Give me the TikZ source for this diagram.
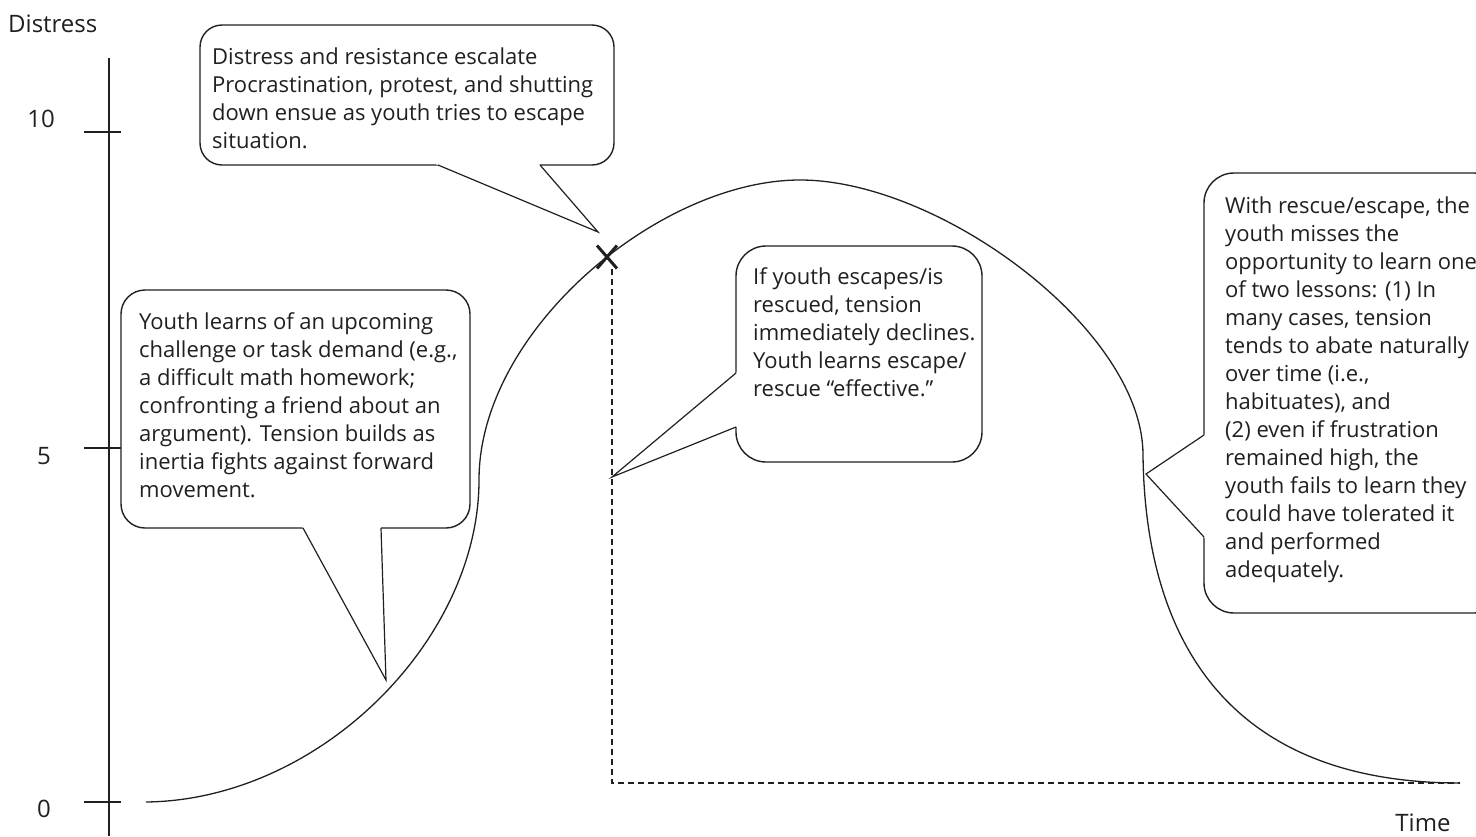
\documentclass[tikz,border=0pt]{standalone}
\usepackage{fontspec}
\setmainfont{Open Sans}
\usetikzlibrary{calc}
\definecolor{ink}{RGB}{35,31,32}

% white wedge over the bubble edge, then its two stroked sides
\newcommand{\bubbletail}[3]{%
  \fill[white] ($(#1)!-3pt!(#2)$) -- (#2) -- ($(#3)!-3pt!(#2)$) -- cycle;
  \draw[tail] (#1) -- (#2) -- (#3);}

\begin{document}
\begin{tikzpicture}[x=1pt,y=-1pt,
  lbl/.style={text=ink, font=\fontsize{24}{28}\selectfont, inner sep=0pt},
  note/.style={text=ink, font=\fontsize{22}{28}\selectfont, align=left,
    anchor=north west, inner sep=0pt},
  bubble/.style={draw=ink, line width=1.4pt, fill=white, anchor=north west,
    inner sep=0pt, outer sep=0pt},
  tail/.style={draw=ink, line width=1.2pt, line join=miter},
  axisline/.style={draw=ink, line width=2.4pt},
  tickline/.style={draw=ink, line width=2.6pt},
  trend/.style={draw=ink, line width=1.3pt},
  cross/.style={draw=ink, line width=3pt},
  escape/.style={draw=ink, line width=1.4pt, dash pattern=on 6pt off 4pt}]

\clip (0,0) rectangle (1476,836);

% vertical axis with its ticks and labels
\coordinate (ytop) at (109,58);
\coordinate (ybot) at (109,836);
\draw[axisline] (ytop) -- (ybot);
\node[lbl, anchor=west] (ylabel) at (8,24) {Distress};

\coordinate (t10a) at (84,132);  \coordinate (t10b) at (121,132);
\coordinate (t5a)  at (84,448);  \coordinate (t5b)  at (121,448);
\coordinate (t0a)  at (84,802);  \coordinate (t0b)  at (121,802);
\draw[tickline] (t10a) -- (t10b);
\draw[tickline] (t5a) -- (t5b);
\draw[tickline] (t0a) -- (t0b);
\node[lbl] (l10) at (41,119) {10};
\node[lbl] (l5)  at (44,456) {5};
\node[lbl] (l0)  at (44,809) {0};
\node[lbl] (xlabel) at (1423,823) {Time};

% distress over time
\coordinate (c0) at (146,802);
\coordinate (c1) at (479,480);
\coordinate (c2) at (800,180);
\coordinate (c3) at (1143,455);
\coordinate (c4) at (1460,783);
\draw[trend] (c0) .. controls (320,800) and (479,640) .. (c1)
  .. controls (479,330) and (660,180) .. (c2)
  .. controls (940,180) and (1143,330) .. (c3)
  .. controls (1145,630) and (1220,783) .. (c4);

% escape point and the drop that follows it
\coordinate (xmark) at (607,257);
\coordinate (drop)  at (612,269);
\coordinate (floor) at (612,783);
\coordinate (fend)  at (1460,783);
\draw[escape] (drop) -- (floor) -- (fend);
\draw[cross] ($(xmark)+(-10,-11.5)$) -- ($(xmark)+(10,11.5)$);
\draw[cross] ($(xmark)+(10,-11.5)$) -- ($(xmark)+(-10,11.5)$);

% speech bubbles
\node[bubble, rounded corners=22pt, minimum width=414pt, minimum height=140pt]
  (b1) at (200,25) {};
\coordinate (b1l) at (438,165); \coordinate (b1t) at (598,232); \coordinate (b1r) at (540,165);
\bubbletail{b1l}{b1t}{b1r}

\node[bubble, rounded corners=24pt, minimum width=349pt, minimum height=238pt]
  (b2) at (121,290) {};
\coordinate (b2l) at (303,528); \coordinate (b2t) at (386,680); \coordinate (b2r) at (381,528);
\bubbletail{b2l}{b2t}{b2r}

\node[bubble, rounded corners=30pt, minimum width=246pt, minimum height=216pt]
  (b3) at (736,246) {};
\coordinate (b3u) at (736,373); \coordinate (b3t) at (612,477); \coordinate (b3d) at (736,427);
\bubbletail{b3u}{b3t}{b3d}

\node[bubble, rounded corners=30pt, minimum width=300pt, minimum height=440pt]
  (b4) at (1204,173) {};
\coordinate (b4u) at (1204,435); \coordinate (b4t) at (1146,474); \coordinate (b4d) at (1204,537);
\bubbletail{b4u}{b4t}{b4d}

% bubble texts
\node[note] (n1) at (212,48) {Distress and resistance escalate\\
Procrastination, protest, and shutting\\
down ensue as youth tries to escape\\
situation.};

\node[note] (n2) at (139,312) {Youth learns of an upcoming\\
challenge or task demand (e.g.,\\
a difficult math homework;\\
confronting a friend about an\\
argument). Tension builds as\\
inertia fights against forward\\
movement.};

\node[note] (n3) at (753,267) {If youth escapes/is\\
rescued, tension\\
immediately declines.\\
Youth learns escape/\\
rescue “effective.”};

\node[note] (n4) at (1225,197) {With rescue/escape, the\\
youth misses the\\
opportunity to learn one\\
of two lessons: (1) In\\
many cases, tension\\
tends to abate naturally\\
over time (i.e.,\\
habituates), and\\
(2) even if frustration\\
remained high, the\\
youth fails to learn they\\
could have tolerated it\\
and performed\\
adequately.};

\end{tikzpicture}
\end{document}
